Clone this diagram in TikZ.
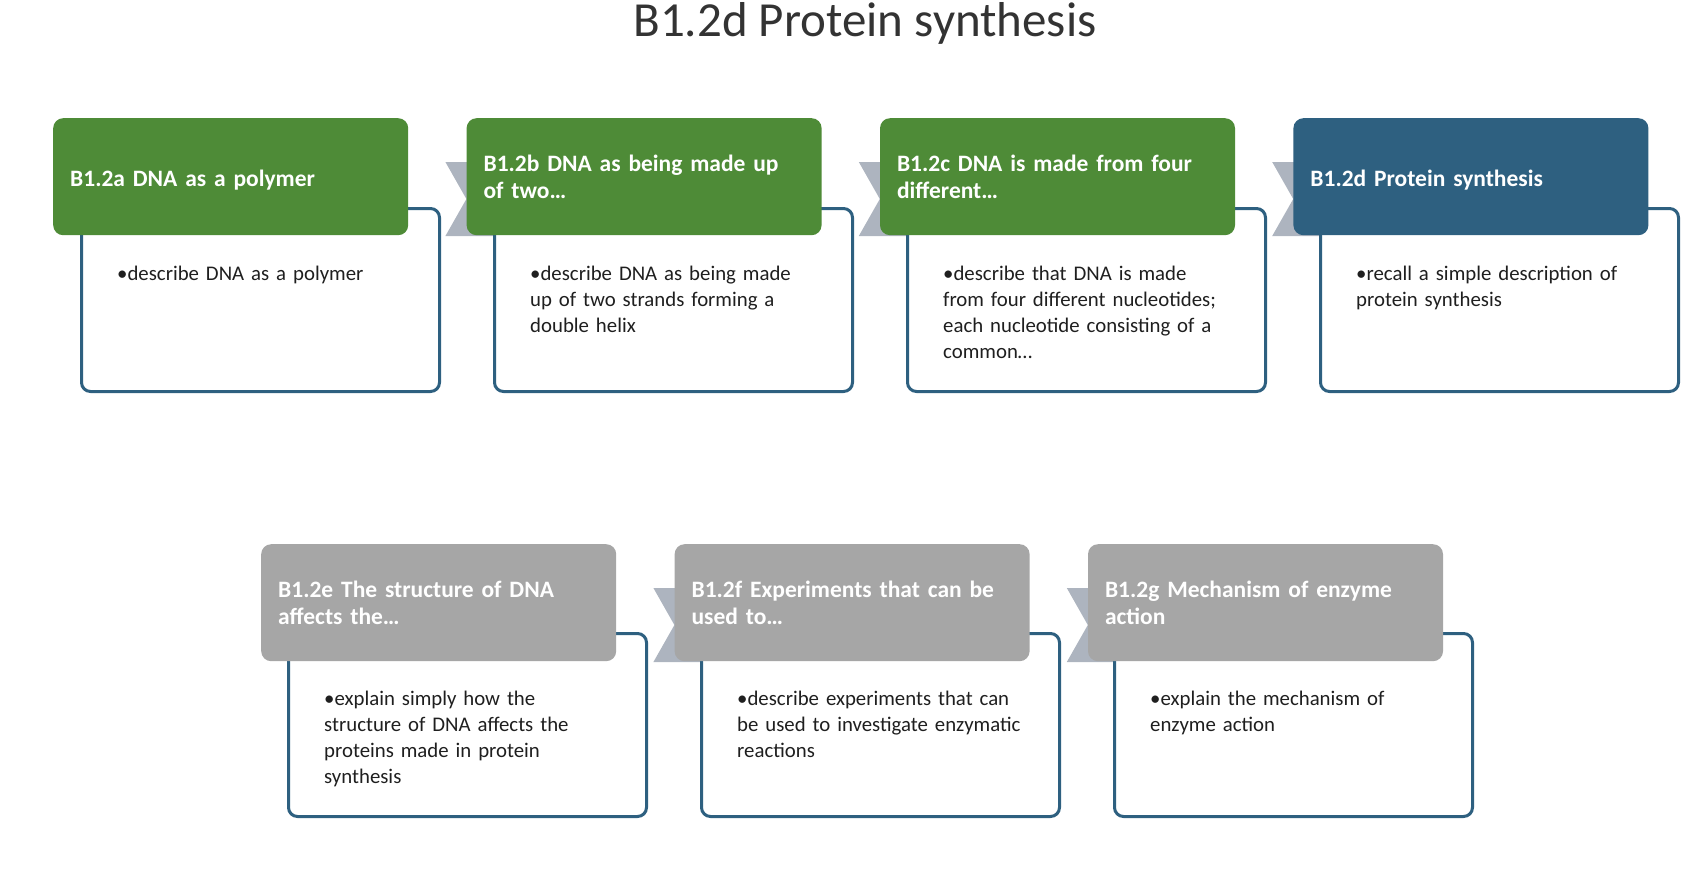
\documentclass[tikz,border=0pt]{standalone}
\usepackage{fontspec}
\setmainfont{Carlito}
\usetikzlibrary{positioning}
\definecolor{dnaGreen}{HTML}{4E8B37}
\definecolor{dnaBlue}{HTML}{2E6080}
\definecolor{dnaGrey}{HTML}{A6A6A6}
\definecolor{dnaChevron}{HTML}{ADB4BF}
\definecolor{dnaTitle}{HTML}{333333}
\tikzset{
	title/.style = {
		anchor=base,
		inner sep=0pt,
		text=dnaTitle,
		font=\fontsize{49}{56}\selectfont
	},
	header/.style = {
		rectangle,
		rounded corners=10pt,
		minimum width=355pt,
		minimum height=117pt,
		text width=321pt,
		inner xsep=17pt,
		align=left,
		text=white,
		font=\fontsize{23.5}{27}\selectfont\bfseries,
		anchor=north west
	},
	header_one/.style = {
		text height=19pt,
		text depth=0pt
	},
	header_g/.style = {
		header,
		fill=dnaGreen
	},
	header_b/.style = {
		header,
		fill=dnaBlue
	},
	header_n/.style = {
		header,
		fill=dnaGrey
	},
	text_box/.style = {
		rectangle,
		rounded corners=9pt,
		draw=dnaBlue,
		line width=3pt,
		fill=white,
		minimum width=358pt,
		minimum height=183pt,
		anchor=north west
	},
	body_text/.style = {
		anchor=base west,
		inner sep=0pt,
		text width=330pt,
		align=left,
		text=black!88,
		font=\fontsize{20.8}{26}\selectfont
	},
	chevron/.style = {
		fill=dnaChevron
	},
}

\begin{document}
\begin{tikzpicture}[x=1pt, y=1pt]
\useasboundingbox (0,0) rectangle (1708,-886);
\node [title] (title) at (865,-36) {B1.2d Protein synthesis};
% first row
\node [text_box] (b1) at (80,-207) {};
\node [header_g, header_one] (h1) at (53,-118) {B1.2a DNA as a polymer};
\node [body_text] (t1) at ([xshift=37pt,yshift=-73pt]b1.north west) {•describe DNA as a polymer};
\fill [chevron] ([xshift=37pt,yshift=-44pt]h1.north east) -- ++(51,0) -- ++(21,-37) -- ++(-21,-37) -- ++(-51,0) -- ++(21,37) -- cycle;
\node [text_box, right=52pt of b1] (b2) {};
\node [header_g, right=58pt of h1] (h2) {B1.2b DNA as being made up\\of two…};
\node [body_text] (t2) at ([xshift=37pt,yshift=-73pt]b2.north west) {•describe DNA as being made\\up of two strands forming a\\double helix};
\fill [chevron] ([xshift=37pt,yshift=-44pt]h2.north east) -- ++(51,0) -- ++(21,-37) -- ++(-21,-37) -- ++(-51,0) -- ++(21,37) -- cycle;
\node [text_box, right=52pt of b2] (b3) {};
\node [header_g, right=58pt of h2] (h3) {B1.2c DNA is made from four\\different…};
\node [body_text] (t3) at ([xshift=37pt,yshift=-73pt]b3.north west) {•describe that DNA is made\\from four different nucleotides;\\each nucleotide consisting of a\\common…};
\fill [chevron] ([xshift=37pt,yshift=-44pt]h3.north east) -- ++(51,0) -- ++(21,-37) -- ++(-21,-37) -- ++(-51,0) -- ++(21,37) -- cycle;
\node [text_box, right=52pt of b3] (b4) {};
\node [header_b, header_one, right=58pt of h3] (h4) {B1.2d Protein synthesis};
\node [body_text] (t4) at ([xshift=37pt,yshift=-73pt]b4.north west) {•recall a simple description of\\protein synthesis};
% second row
\node [text_box] (b5) at (287,-632) {};
\node [header_n] (h5) at (261,-544) {B1.2e The structure of DNA\\affects the…};
\node [body_text] (t5) at ([xshift=37pt,yshift=-73pt]b5.north west) {•explain simply how the\\structure of DNA affects the\\proteins made in protein\\synthesis};
\fill [chevron] ([xshift=37pt,yshift=-44pt]h5.north east) -- ++(51,0) -- ++(21,-37) -- ++(-21,-37) -- ++(-51,0) -- ++(21,37) -- cycle;
\node [text_box, right=52pt of b5] (b6) {};
\node [header_n, right=58pt of h5] (h6) {B1.2f Experiments that can be\\used to…};
\node [body_text] (t6) at ([xshift=37pt,yshift=-73pt]b6.north west) {•describe experiments that can\\be used to investigate enzymatic\\reactions};
\fill [chevron] ([xshift=37pt,yshift=-44pt]h6.north east) -- ++(51,0) -- ++(21,-37) -- ++(-21,-37) -- ++(-51,0) -- ++(21,37) -- cycle;
\node [text_box, right=52pt of b6] (b7) {};
\node [header_n, right=58pt of h6] (h7) {B1.2g Mechanism of enzyme\\action};
\node [body_text] (t7) at ([xshift=37pt,yshift=-73pt]b7.north west) {•explain the mechanism of\\enzyme action};
\end{tikzpicture}
\end{document}
